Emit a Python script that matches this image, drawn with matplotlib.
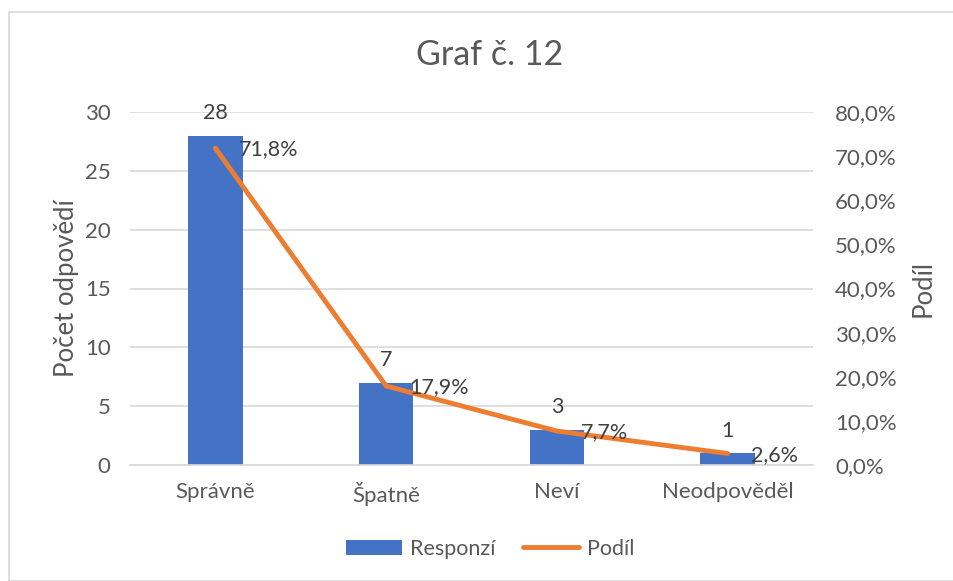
import matplotlib
matplotlib.use("Agg")
import matplotlib.pyplot as plt
from matplotlib.patches import Rectangle
from matplotlib.ticker import FuncFormatter

categories = ["Správně", "Špatně", "Neví", "Neodpověděl"]
responses = [28, 7, 3, 1]
shares = [71.8, 17.9, 7.7, 2.6]
title = "Graf č. 12"

plt.rcParams['font.family'] = ['Lato', 'DejaVu Sans']
txt = "#595959"
blue = "#4472C4"
orange = "#ED7D31"

fig = plt.figure(figsize=(9.54, 5.81), dpi=100)
W, H = 954, 581
fig.patches.append(Rectangle((9 / W, 0), 1, 1 - 12 / H, transform=fig.transFigure,
                             fill=False, edgecolor="#D9D9D9", linewidth=1.2))

ax = fig.add_axes([130 / W, 1 - 465 / H, (813 - 130) / W, (465 - 112) / H])
x = list(range(len(categories)))
ax.bar(x, responses, width=0.32, color=blue, label="Responzí", zorder=2)
ax.set_ylim(0, 30)
ax.set_xlim(-0.5, len(categories) - 0.5)
ax.set_yticks(range(0, 31, 5))
ax.grid(axis="y", color="#D9D9D9", linewidth=1.2, zorder=0)
ax.set_axisbelow(True)
for s in ["top", "right", "left"]:
    ax.spines[s].set_visible(False)
ax.spines["bottom"].set_color("#D9D9D9")
ax.spines["bottom"].set_linewidth(1.2)
ax.tick_params(axis="y", length=0, labelsize=16, colors=txt, pad=14)
ax.tick_params(axis="x", length=0, labelsize=16, colors=txt, pad=12)
ax.set_xticks(x)
ax.set_xticklabels(categories)
ax.set_ylabel("Počet odpovědí", fontsize=18.5, color=txt, labelpad=4)
for xi, v in zip(x, responses):
    ax.annotate(str(v), (xi, v), xytext=(0, 9), textcoords="offset points",
                ha="center", va="bottom", fontsize=15.5, color="#404040")

ax2 = ax.twinx()
ax2.plot(x, shares, color=orange, linewidth=3.5, solid_capstyle="round",
         label="Podíl", zorder=3)
ax2.set_ylim(0, 80)
ax2.set_yticks(range(0, 81, 10))
ax2.yaxis.set_major_formatter(FuncFormatter(lambda v, p: f"{v:.1f}".replace(".", ",") + "%"))
for s in ["top", "right", "left", "bottom"]:
    ax2.spines[s].set_visible(False)
ax2.tick_params(length=0, labelsize=16, colors=txt, pad=16)
ax2.set_ylabel("Podíl", fontsize=18.5, color=txt, labelpad=10)
for xi, v in zip(x, shares):
    ax2.annotate(f"{v:.1f}".replace(".", ",") + "%", (xi, v), xytext=(17, -1),
                 textcoords="offset points", ha="left", va="center",
                 fontsize=15.5, color="#404040")

fig.text(490 / W, 1 - 55 / H, title, ha="center", va="center", fontsize=24.5, color=txt)

h1, l1 = ax.get_legend_handles_labels()
h2, l2 = ax2.get_legend_handles_labels()
fig.legend(h1 + h2, l1 + l2, loc="center", bbox_to_anchor=(490 / W, 1 - 549 / H),
           ncol=2, frameon=False, fontsize=15.5, labelcolor=txt,
           handlelength=2.6, columnspacing=1.3, handletextpad=0.35)

fig.savefig("out.png", dpi=100)
